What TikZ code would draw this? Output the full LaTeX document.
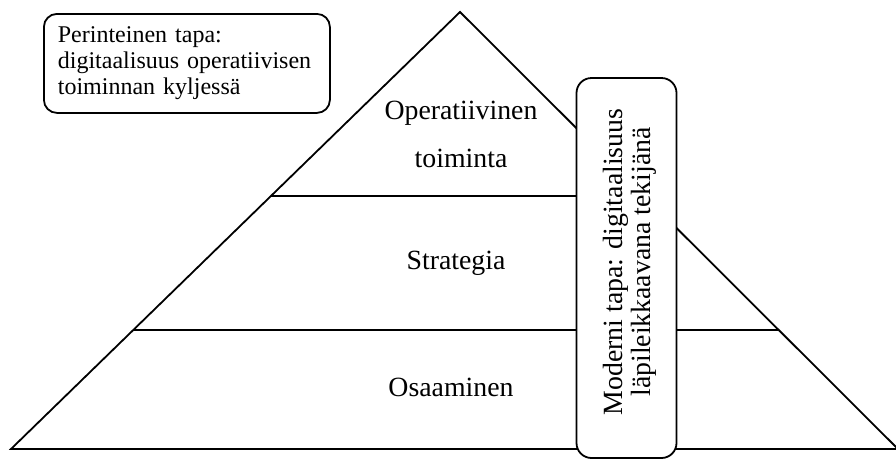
\documentclass[tikz,border=0pt]{standalone}
\usepackage{fontspec}
\setmainfont{Liberation Serif}
\usetikzlibrary{calc}
\begin{document}
\begin{tikzpicture}[x=1pt,y=-1pt,
  edge/.style={line width=1.8pt, line join=miter},
  roundbox/.style={draw, line width=1.8pt, fill=white},
  level/.style={font=\fontsize{27.8}{30}\selectfont, inner sep=0pt}]
\useasboundingbox (0,0) rectangle (896,459);
% pyramid outline
\coordinate (apex) at (460,12);
\coordinate (bl) at (11,449);
\coordinate (br) at (898,449);
\draw[edge] (bl) -- (apex) -- (br) -- cycle;
% level boundaries
\coordinate (l1) at ($(apex)!0.421!(bl)$);
\coordinate (l2) at ($(apex)!0.7277!(bl)$);
\coordinate (r2) at ($(apex)!0.7277!(br)$);
\coordinate (l1end) at (577,196);
\draw[edge] (l1) -- (l1end);
\draw[edge] (l2) -- (r2);
% level labels
\node[level] (op1) at (461,113) {Operatiivinen};
\node[level] (op2) at (461,158) {toiminta};
\node[level] (strat) at (456,263) {Strategia};
\node[level] (osa) at (451,387) {Osaaminen};
% vertical box crossing all levels
\node[roundbox, rounded corners=15pt, minimum width=100pt, minimum height=380pt, inner sep=0pt] (modern) at (626.5,268) {};
\node[rotate=90, align=center, font=\fontsize{27.8}{28}\selectfont, inner sep=0pt] (moderntext) at (630,262) {Moderni tapa: digitaalisuus\\läpileikkaavana tekijänä};
% traditional approach box
\node[roundbox, rounded corners=13pt, anchor=north west, text width=258pt, inner xsep=14pt, minimum height=99pt, align=left, font=\fontsize{24}{26}\selectfont] (trad) at (43,13) {Perinteinen tapa:\\digitaalisuus operatiivisen\\toiminnan kyljessä};
\end{tikzpicture}
\end{document}
